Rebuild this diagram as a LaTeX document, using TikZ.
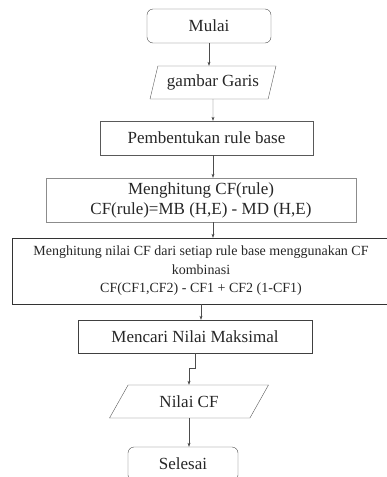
\documentclass[tikz,border=0pt]{standalone}
\usepackage{fontspec}
\setmainfont{Liberation Serif}
\usetikzlibrary{shapes.geometric, arrows.meta}

\begin{document}
\begin{tikzpicture}[x=1pt, y=-1pt,
    every node/.style={text=black!85, font=\fontsize{17}{20}\selectfont},
    terminal/.style={draw=black!70, rounded corners=6pt, inner sep=0pt},
    proses/.style={draw=black!65, inner sep=0pt, align=center},
    io/.style={draw=black!65, trapezium, trapezium stretches=true, inner sep=0pt},
    alur/.style={black!70, -{Stealth[length=4pt, width=3pt]}}]
    \useasboundingbox (0,0) rectangle (386,477);

    % start and input
    \node[terminal, minimum width=124pt, minimum height=34pt] (mulai) at (209,26) {Mulai};
    \node[io, trapezium left angle=67, trapezium right angle=113,
          minimum width=126pt, minimum height=33pt] (garis) at (213,82.5) {gambar Garis};

    % processing steps
    \node[proses, minimum width=213pt, minimum height=34pt] (pemb) at (206.5,138) {Pembentukan rule base};
    \node[proses, draw=black!45, minimum width=310pt, minimum height=44pt] (hitung) at (201,200)
        {Menghitung CF(rule)\\CF(rule)=MB (H,E) - MD (H,E)};
    \node[proses, draw=black!80, minimum width=378pt, minimum height=66pt,
          font=\fontsize{14}{18.5}\selectfont] (gabung) at (201,271)
        {Menghitung nilai CF dari setiap rule base menggunakan CF\\kombinasi\\CF(CF1,CF2) - CF1 + CF2 (1-CF1)};
    \node[proses, draw=black!75, minimum width=234pt, minimum height=33pt] (cari) at (195,336.5) {Mencari Nilai Maksimal};

    % output and end
    \node[io, trapezium left angle=53, trapezium right angle=127,
          minimum width=160pt, minimum height=33pt] (nilai) at (189,401.5) {Nilai CF};
    \node[terminal, minimum width=110pt, minimum height=34pt] (selesai) at (183,464) {Selesai};

    % connectors
    \draw[alur] (mulai) -- (mulai |- garis.north);
    \draw[alur] (garis) -- (garis |- pemb.north);
    \draw[alur] (garis |- pemb.south) -- (garis |- hitung.north);
    \draw[alur] (garis |- hitung.south) -- (garis |- gabung.north);
    \draw[alur] (gabung.south) -- (gabung.south |- cari.north);
    \draw[alur] (cari.south) -- ++(0,15) -| (nilai.north);
    \draw[alur] (nilai.south) -- (nilai.south |- selesai.north);
\end{tikzpicture}
\end{document}
